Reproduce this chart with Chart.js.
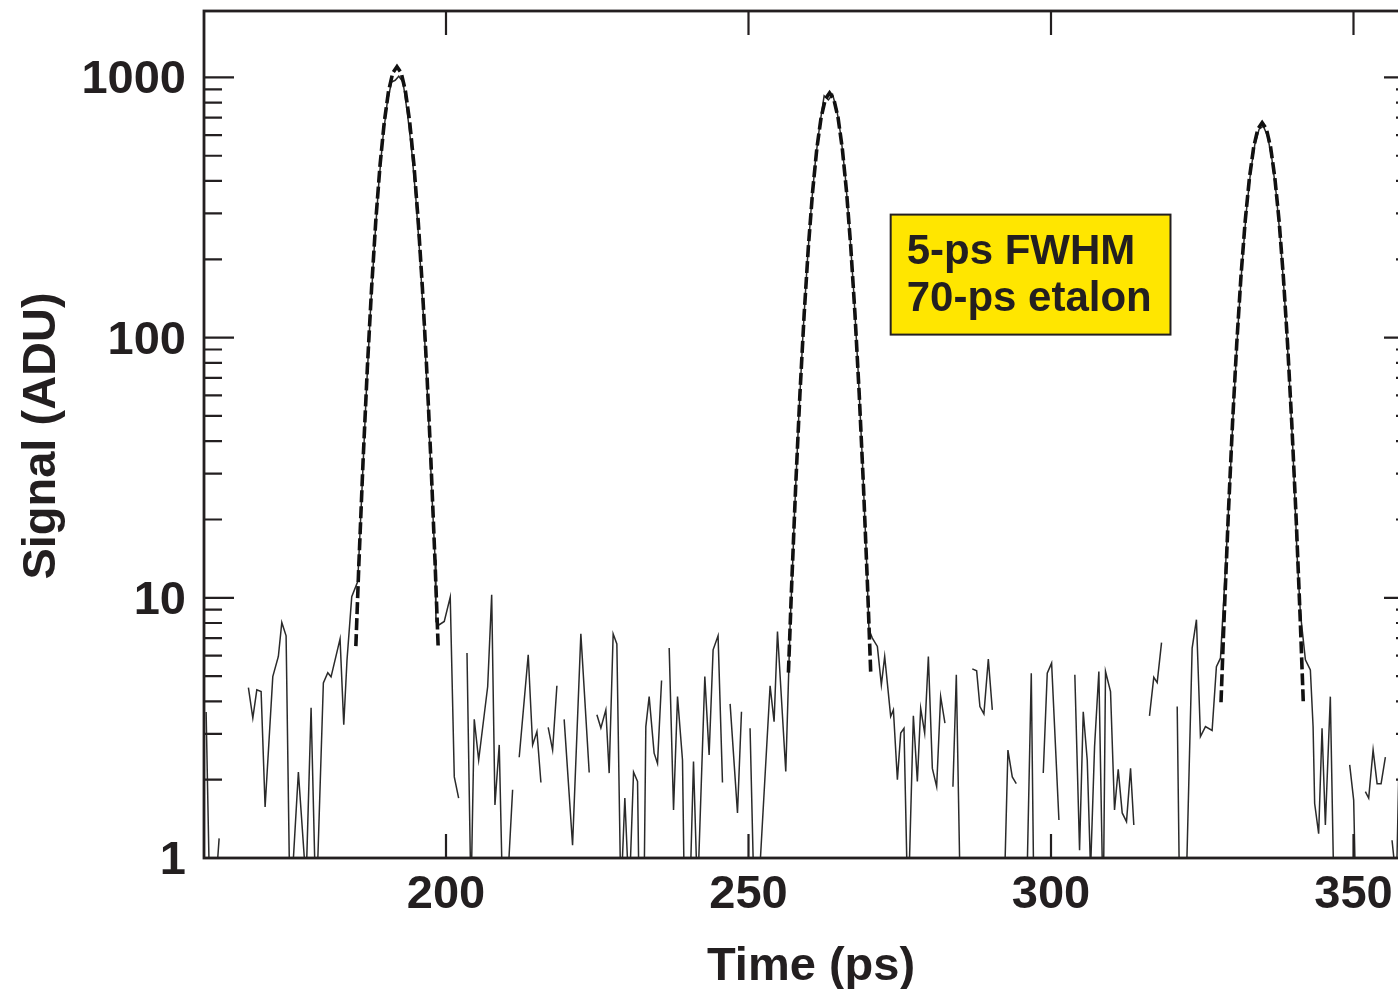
<!DOCTYPE html>
<html>
<head>
<meta charset="utf-8">
<title>Signal vs time</title>
<script src="https://cdn.jsdelivr.net/npm/chart.js@4.4.0/dist/chart.umd.min.js"></script>
<style>
    html, body { margin: 0; padding: 0; background: #fff; overflow: hidden; }
    #wrap { width: 1398px; height: 989px; overflow: hidden; }
    canvas { display: block; }
</style>
</head>
<body>
<div id="wrap"><canvas id="signal-chart" width="1420" height="989"></canvas></div>
<script>
// Measured streak signal (ADU) vs time (ps); null = no signal (gap on log axis)
const time = [
    160.35, 161.0, 161.8, 162.5, 163.2,
    167.34, 168.07, 168.73, 169.44, 170.10, 171.37, 172.29, 172.86, 173.57, 174.23,
    175.60, 176.87, 177.70, 178.52, 179.73, 180.46, 181.00, 182.49, 183.10, 183.64,
    184.42, 185.41, 186.1, 186.8, 187.5, 188.2, 188.9, 189.6, 190.3, 191.0, 191.6,
    192.2, 192.9, 193.6, 194.3, 195.0, 195.7, 196.4, 197.1, 197.7, 198.2, 198.34,
    198.89, 199.71, 200.70, 201.37, 202.09, 202.8,
    203.47, 204.13, 204.67, 205.40, 206.89, 207.55, 208.09, 208.80, 209.36, 209.9, 211.01, 211.6,
    212.10, 213.59, 214.32, 215.03, 215.69, 216.3,
    216.89, 217.62, 218.33, 219.0,
    219.53, 220.92, 222.29, 223.67, 224.3,
    224.94, 225.60, 226.42, 226.97, 227.63, 228.24, 228.90, 229.56, 230.27, 231.00,
    231.66, 231.92, 232.75, 233.03, 233.58, 234.40, 234.96, 235.63, 236.26,
    236.89, 237.61, 238.27, 239.09, 239.4, 240.3, 240.91, 241.57, 242.78, 243.49,
    244.15, 244.97, 245.70, 246.3,
    246.96, 248.18, 248.84, 249.5,
    250.26, 250.92, 251.6, 252.14, 253.57, 254.23, 254.79, 256.16, 256.87,
    257.3, 257.6, 258.3, 259.0, 259.7, 260.4, 261.1, 261.8, 262.5, 263.2, 263.9,
    264.6, 265.3, 266.0, 266.7, 267.4, 268.1, 268.8, 269.5, 269.91, 270.47, 271.30,
    271.96, 272.51, 273.50, 273.95, 274.61, 275.16, 275.70, 276.36, 277.25, 277.91,
    278.46, 279.12, 279.73, 280.39, 281.10, 281.76, 282.47, 283.1,
    283.79, 284.35, 285.06, 286.0,
    286.99, 287.71, 288.25, 288.91, 289.64, 290.30, 291.3,
    292.25, 292.88, 293.60, 294.26, 295.1,
    295.97, 296.74, 297.17, 298.0,
    298.72, 299.38, 300.10, 301.31, 302.6,
    303.94, 304.72, 305.33, 305.99, 306.54, 307.20, 307.91, 308.63, 309.01, 309.84,
    310.50, 311.11, 311.77, 312.48, 313.15, 313.69, 315.0,
    316.28, 316.99, 317.55, 318.27, 319.5,
    320.86, 321.29, 322.23, 323.33, 324.04, 324.70, 325.53, 326.63, 327.34, 328.01,
    328.84, 329.5, 330.2, 330.9, 331.6, 332.3, 333.0, 333.7, 334.4, 335.1, 335.8,
    336.5, 337.2, 337.9, 338.6, 339.3, 340.0, 340.68, 341.22, 342.05, 342.87, 343.32,
    343.58, 344.24, 344.80, 345.35, 346.17, 346.83, 347.6,
    349.37, 350.03, 350.43, 351.3,
    351.96, 352.51, 353.24, 353.90, 354.56, 355.27, 355.9,
    356.37, 357.1, 357.5, 358.2
];
const signal = [
    3.64, 0.6, 0.7, 1.19, null,
    4.52, 3.45, 4.43, 4.36, 1.57, 4.98, 5.95, 8.04, 7.14, 0.6,
    2.14, 0.8, 3.78, 0.6, 4.71, 5.15, 4.97, 6.95, 3.25, 5.78,
    10.1, 11.55, 25.6, 59.7, 124.7, 234, 394, 594, 805, 960, 975,
    1010, 960, 733, 533, 348, 203, 107, 50.3, 24.2, 14, 8.1,
    7.88, 8.11, 10.06, 2.05, 1.70, null,
    6.14, 0.7, 3.41, 2.38, 4.56, 10.27, 1.60, 2.72, 0.7, 0.6, 1.83, null,
    2.44, 6.04, 2.72, 3.06, 1.95, null,
    3.18, 2.60, 4.59, null,
    3.41, 1.12, 7.27, 2.13, null,
    3.55, 3.16, 3.71, 2.12, 7.27, 6.65, 0.7, 1.70, 0.7, 2.14,
    1.97, 0.7, 0.8, 3.20, 4.17, 2.53, 2.31, 4.81, null,
    6.41, 1.53, 4.17, 2.38, 0.7, 0.7, 2.35, 0.7, 4.98, 2.49,
    6.31, 7.14, 1.95, null,
    3.91, 1.49, 3.65, null,
    3.15, 0.7, 0.7, 1.17, 4.59, 3.34, 7.42, 2.15, 7.76,
    13.5, 21.1, 49.1, 102.6, 192.8, 324, 489, 662, 850, 820, 860,
    750, 589, 415, 262, 149, 75.9, 34.6, 14.2, 7.53, 7.0, 6.50,
    4.63, 5.95, 3.50, 3.71, 2.0, 3.02, 3.15, 0.6, 3.52, 1.97,
    3.76, 3.02, 5.95, 2.21, 1.88, 4.17, 3.30, null,
    1.88, 5.06, 0.6, null,
    5.33, 5.24, 3.82, 3.58, 5.81, 3.71, null,
    0.7, 2.60, 2.05, 1.93, null,
    0.7, 5.13, 0.7, null,
    2.12, 5.13, 5.61, 1.40, null,
    5.06, 1.07, 3.65, 2.38, 0.9, 2.68, 5.21, 0.6, 5.21, 4.36,
    1.53, 2.19, 1.49, 1.38, 2.21, 1.34, null,
    3.52, 4.95, 4.72, 6.73, null,
    3.82, 0.6, 0.6, 6.41, 8.24, 2.93, 3.20, 3.09, 5.44, 5.86,
    13.0, 25.6, 56.1, 110, 194, 307, 436, 554, 632, 650, 594,
    489, 362, 240, 143, 75.9, 36.3, 14.5, 8.75, 5.78, 5.28, 3.20,
    1.62, 1.24, 3.15, 1.34, 4.17, 0.6, null,
    2.28, 1.67, 0.6, null,
    1.80, 1.70, 2.60, 1.93, 1.93, 2.44, null,
    1.17, 0.8, 2.2, 1.5
];

// Gaussian fit to the three etalon pulses (dashed curve)
const fitTime = [
    185.1, 185.6, 186.3, 187.0, 187.7, 188.4, 189.1, 189.8, 190.5, 191.2, 191.9,
    192.6, 193.3, 194.0, 194.7, 195.4, 196.1, 196.8, 197.5, 198.2, 198.7,
    230,
    256.6, 257.1, 257.8, 258.5, 259.2, 259.9, 260.6, 261.3, 262.0, 262.7, 263.4,
    264.1, 264.8, 265.5, 266.2, 266.9, 267.6, 268.3, 269.0, 269.7, 270.2,
    300,
    328.1, 328.6, 329.3, 330.0, 330.7, 331.4, 332.1, 332.8, 333.5, 334.2, 334.9,
    335.6, 336.3, 337.0, 337.7, 338.4, 339.1, 339.8, 340.5, 341.2, 341.7
];
const fitSignal = [
    6.52, 13.5, 33.9, 76.6, 155, 282, 461, 674, 885, 1041, 1099,
    1041, 885, 674, 461, 282, 155, 76.6, 33.9, 13.5, 6.52,
    null,
    5.16, 10.7, 26.9, 60.7, 123, 224, 365, 534, 701, 825, 871,
    825, 701, 534, 365, 224, 123, 60.7, 26.9, 10.7, 5.16,
    null,
    3.97, 8.20, 20.7, 46.7, 94.7, 172, 281, 411, 539, 634, 670,
    634, 539, 411, 281, 172, 94.7, 46.7, 20.7, 8.20, 3.97
];

const xTicks = [200, 250, 300, 350];
const yTicks = [1, 10, 100, 1000];
const boxLines = ['5-ps FWHM', '70-ps etalon'];

const INK = '#231f20';
const FONT = "'Liberation Sans', Arial, Helvetica, sans-serif";

const signalPoints = time.map((t, i) => ({ x: t, y: signal[i] }));
const fitPoints = fitTime.map((t, i) => ({ x: t, y: fitSignal[i] }));

// frame with inward ticks, label box and axis titles
const framePlugin = {
    id: 'frame',
    afterDraw(chart) {
        const { ctx, chartArea: a, scales: { x, y } } = chart;
        ctx.save();

        ctx.strokeStyle = INK;
        ctx.lineWidth = 2.8;
        ctx.strokeRect(a.left, a.top, a.right - a.left, a.bottom - a.top);

        ctx.lineWidth = 2.2;
        ctx.beginPath();
        xTicks.forEach(v => {
            const px = x.getPixelForValue(v);
            ctx.moveTo(px, a.bottom); ctx.lineTo(px, a.bottom - 24);
            ctx.moveTo(px, a.top); ctx.lineTo(px, a.top + 24);
        });
        for (let dec = 1; dec <= 1000; dec *= 10) {
            for (let m = 1; m <= 9; m++) {
                const v = dec * m;
                if (v > y.max) break;
                const py = y.getPixelForValue(v);
                const len = m === 1 ? 30 : 18;
                ctx.moveTo(a.left, py); ctx.lineTo(a.left + len, py);
                ctx.moveTo(a.right, py); ctx.lineTo(a.right - len, py);
            }
        }
        ctx.stroke();

        // yellow label box
        const bx0 = x.getPixelForValue(273.5), bx1 = x.getPixelForValue(319.75);
        const by0 = y.getPixelForValue(297), by1 = y.getPixelForValue(102.7);
        ctx.fillStyle = '#ffe600';
        ctx.fillRect(bx0, by0, bx1 - bx0, by1 - by0);
        ctx.lineWidth = 2;
        ctx.strokeRect(bx0, by0, bx1 - bx0, by1 - by0);
        ctx.fillStyle = INK;
        ctx.font = 'bold 42px ' + FONT;
        ctx.textAlign = 'left';
        ctx.textBaseline = 'alphabetic';
        boxLines.forEach((s, i) => ctx.fillText(s, bx0 + 16, by0 + 49 + i * 47.5));

        // axis titles
        ctx.font = 'bold 47px ' + FONT;
        ctx.textAlign = 'center';
        ctx.fillText('Time (ps)', (a.left + a.right) / 2 + 2, 980);
        ctx.translate(55, 436);
        ctx.rotate(-Math.PI / 2);
        ctx.fillText('Signal (ADU)', 0, 0);

        ctx.restore();
    }
};

const tickFont = { family: FONT, size: 47, weight: 'bold' };

new Chart(document.getElementById('signal-chart'), {
    type: 'line',
    data: {
        datasets: [
            {
                label: 'Fit',
                data: fitPoints,
                borderColor: '#111',
                borderWidth: 3.6,
                borderDash: [12, 4],
                pointRadius: 0,
                spanGaps: false,
                order: 0
            },
            {
                label: 'Signal',
                data: signalPoints,
                borderColor: '#2a2a2a',
                borderWidth: 1.5,
                pointRadius: 0,
                spanGaps: false,
                order: 1
            }
        ]
    },
    options: {
        responsive: false,
        animation: false,
        layout: { padding: { top: 11, right: 6, left: 0, bottom: 0 } },
        plugins: { legend: { display: false }, tooltip: { enabled: false } },
        scales: {
            x: {
                type: 'linear',
                min: 160,
                max: 360,
                grid: { display: false, drawTicks: false },
                border: { display: false },
                ticks: { padding: 9, color: INK, font: tickFont, autoSkip: false, maxRotation: 0 },
                afterBuildTicks: s => { s.ticks = xTicks.map(v => ({ value: v })); },
                afterFit: s => { s.height = 131; s.paddingLeft = 0; s.paddingRight = 0; }
            },
            y: {
                type: 'logarithmic',
                min: 1,
                max: 1800,
                grid: { display: false, drawTicks: false },
                border: { display: false },
                ticks: { padding: 18, labelOffset: 3, color: INK, font: tickFont, callback: v => String(v) },
                afterBuildTicks: s => { s.ticks = yTicks.map(v => ({ value: v })); },
                afterFit: s => { s.width = 204; s.paddingTop = 0; s.paddingBottom = 0; }
            }
        }
    },
    plugins: [framePlugin]
});
</script>
</body>
</html>
